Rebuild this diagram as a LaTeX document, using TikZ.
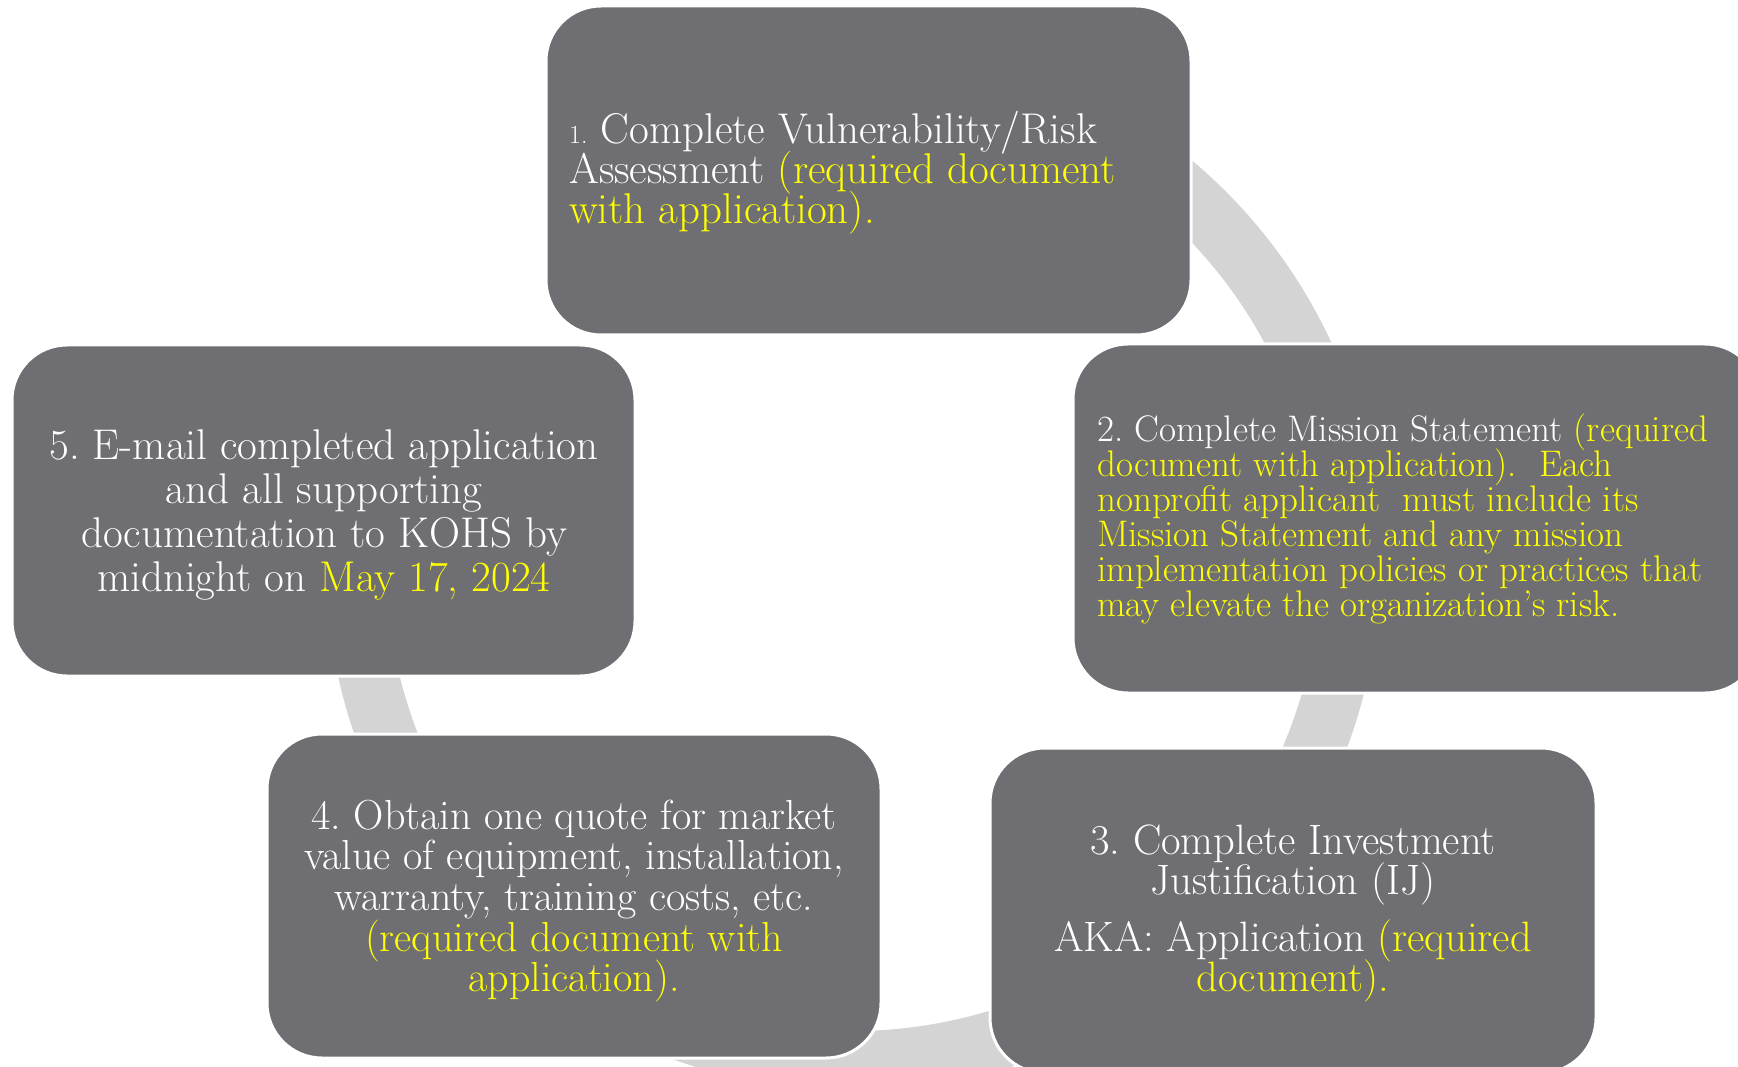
\documentclass[tikz,border=0pt]{standalone}
\definecolor{boxgray}{RGB}{111,110,115}
\definecolor{ringgray}{RGB}{212,212,212}
\definecolor{hl}{RGB}{255,255,0}
\frenchspacing
\newcommand{\tightlines}{\lineskiplimit=-100pt\relax}
\tikzset{
  box/.style={draw=white, line width=3pt, fill=boxgray, rounded corners=55pt, inner sep=0pt},
  txt/.style={text=white, inner sep=0pt},
  ring/.style={draw=ringgray, line width=60pt},
}
\begin{document}
\begin{tikzpicture}[x=1pt,y=1pt]
\useasboundingbox (0,0) rectangle (1738,-1067);
\coordinate (c) at (853,-564);
\draw[ring] ([shift={(95:497)}]c) arc[start angle=95, end angle=-190, radius=497];
% boxes
\node[box, minimum width=645pt, minimum height=329pt] (b1) at (868.5,-170.5) {};
\node[box, minimum width=687pt, minimum height=349pt] (b2) at (1416.5,-518.5) {};
\node[box, minimum width=606pt, minimum height=325pt] (b3) at (1293,-910.5) {};
\node[box, minimum width=614pt, minimum height=324pt] (b4) at (574,-896) {};
\node[box, minimum width=623pt, minimum height=331pt] (b5) at (323.5,-510.5) {};
% texts
\node[txt, anchor=west, align=left, font=\fontsize{43pt}{40pt}\selectfont\tightlines] (t1) at (569,-173)
  {{\fontsize{26pt}{40pt}\selectfont 1.} Complete Vulnerability/Risk\\
   Assessment \textcolor{hl}{(required document}\\
   \textcolor{hl}{with application).}};
\node[txt, anchor=west, align=left, font=\fontsize{37pt}{35pt}\selectfont\tightlines] (t2) at (1097,-519)
  {2. Complete Mission Statement \textcolor{hl}{(required}\\
   \textcolor{hl}{document with application).~ Each}\\
   \textcolor{hl}{nonprofit applicant~ must include its}\\
   \textcolor{hl}{Mission Statement and any mission}\\
   \textcolor{hl}{implementation policies or practices that}\\
   \textcolor{hl}{may elevate the organization’s risk.}};
\node[txt, align=center, font=\fontsize{42.5pt}{40pt}\selectfont\tightlines] (t3) at (1293,-913.5)
  {3. Complete Investment\\
   Justification (IJ)\\[17pt]
   AKA: Application \textcolor{hl}{(required}\\
   \textcolor{hl}{document).}};
\node[txt, align=center, font=\fontsize{42pt}{40.7pt}\selectfont\tightlines] (t4) at (574,-901)
  {4. Obtain one quote for market\\
   value of equipment, installation,\\
   warranty, training costs, etc.\\
   \textcolor{hl}{(required document with}\\
   \textcolor{hl}{application).}};
\node[txt, align=center, font=\fontsize{43pt}{44pt}\selectfont\tightlines] (t5) at (324,-515)
  {5. E-mail completed application\\
   and all supporting\\
   documentation to KOHS by\\
   midnight on \textcolor{hl}{May 17, 2024}};
\end{tikzpicture}
\end{document}
